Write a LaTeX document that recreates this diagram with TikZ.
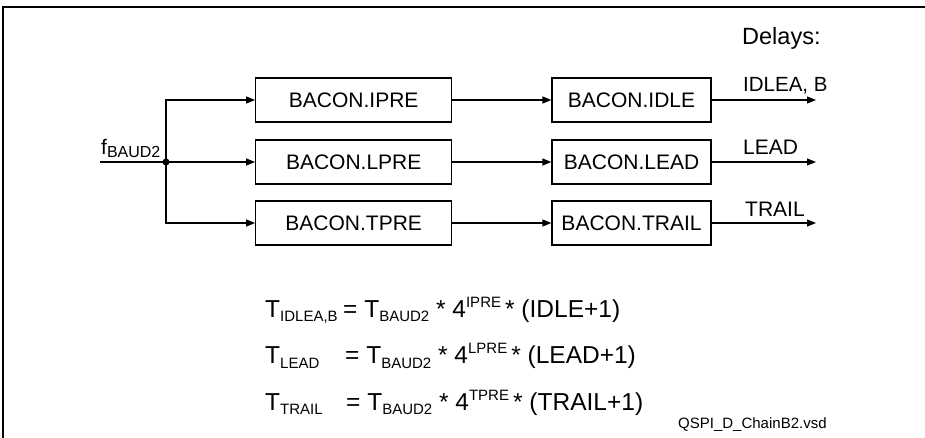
\documentclass[tikz,border=0pt]{standalone}
\usepackage{fontspec}
\setmainfont{Liberation Sans}
\usetikzlibrary{arrows.meta}
\newcommand{\sbx}[1]{\raisebox{-4.5pt}{\fontsize{15}{18}\selectfont #1}}
\newcommand{\sbf}[1]{\raisebox{-3pt}{\fontsize{16}{18}\selectfont #1}}
\newcommand{\spx}[1]{\raisebox{10pt}{\fontsize{15}{18}\selectfont #1}}
\begin{document}
\begin{tikzpicture}[x=1pt,y=-1pt,
  blk/.style={draw, line width=1.3pt, minimum height=44pt, inner sep=0pt, font=\fontsize{21}{25}\selectfont},
  conn/.style={line width=1.3pt, -{Triangle[length=9pt,width=7pt]}},
  wire/.style={line width=1.3pt},
  lbl/.style={font=\fontsize{21}{25}\selectfont, inner sep=0pt, anchor=base west},
  eq/.style={font=\fontsize{24.5}{28}\selectfont, inner sep=0pt, anchor=base west},
  dot/.style={circle, fill, inner sep=0pt, minimum size=7pt}]
\useasboundingbox (0,0) rectangle (925,438);
\draw[line width=2pt] (3,438) -- (3,7) -- (925,7);

\node[blk, minimum width=196pt] (ipre) at (353.7,100) {BACON.IPRE};
\node[blk, minimum width=196pt] (lpre) at (353.7,162) {BACON.LPRE};
\node[blk, minimum width=196pt] (tpre) at (353.7,223) {BACON.TPRE};
\node[blk, minimum width=159pt] (idle) at (631.5,100) {BACON.IDLE};
\node[blk, minimum width=159pt] (lead) at (631.5,162) {BACON.LEAD};
\node[blk, minimum width=159pt] (trail) at (631.5,223) {BACON.TRAIL};

\coordinate (in) at (100,162);
\node[dot] (jn) at (166,162) {};
\draw[wire] (in) -- (jn.center);
\draw[conn] (jn.center) |- (ipre.west);
\draw[conn] (jn.center) -- (lpre.west);
\draw[conn] (jn.center) |- (tpre.west);
\draw[conn] (ipre) -- (idle);
\draw[conn] (lpre) -- (lead);
\draw[conn] (tpre) -- (trail);
\coordinate (oi) at (816,100);
\coordinate (ol) at (816,162);
\coordinate (ot) at (816,223);
\draw[conn] (idle) -- (oi);
\draw[conn] (lead) -- (ol);
\draw[conn] (trail) -- (ot);

\node[lbl, font=\fontsize{23.5}{28}\selectfont] (dl) at (742,45) {Delays:};
\node[lbl, font=\fontsize{20.5}{25}\selectfont] (li) at (743,92) {IDLEA, B};
\node[lbl] (ll) at (743,155) {LEAD};
\node[lbl] (lt) at (745,217) {TRAIL};
\node[lbl] (f) at (101,155) {f\sbf{BAUD2}};

\node[eq] (e1l) at (265,317) {T\sbx{IDLEA,B}};
\node[eq] (e1r) at (343,317) {= T\sbx{BAUD2} * 4\spx{IPRE}\,* (IDLE+1)};
\node[eq] (e2l) at (265,363.5) {T\sbx{LEAD}};
\node[eq] (e2r) at (345,363.5) {= T\sbx{BAUD2} * 4\spx{LPRE}\,* (LEAD+1)};
\node[eq] (e3l) at (265,410) {T\sbx{TRAIL}};
\node[eq] (e3r) at (346,410) {= T\sbx{BAUD2} * 4\spx{TPRE}\,* (TRAIL+1)};

\node[font=\fontsize{15}{18}\selectfont, inner sep=0pt, anchor=base west] (fn) at (678,428) {QSPI\_D\_ChainB2.vsd};
\end{tikzpicture}
\end{document}
